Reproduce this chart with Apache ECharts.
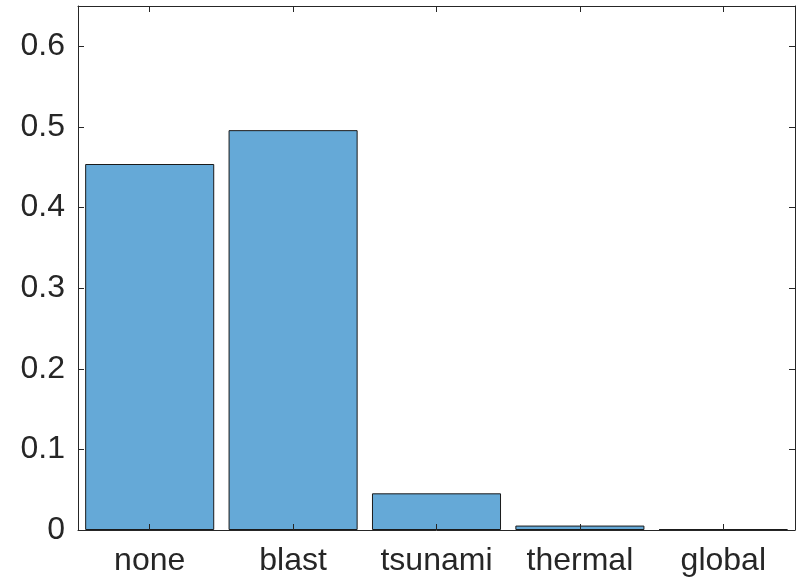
<!DOCTYPE html>
<html>
<head>
<meta charset="utf-8">
<script src="https://cdn.jsdelivr.net/npm/echarts@6/dist/echarts.min.js"></script>
<style>html,body{margin:0;padding:0;background:#fff}#c{width:796px;height:579px}</style>
</head>
<body>
<div id="c"></div>
<script>
const categories = ['none', 'blast', 'tsunami', 'thermal', 'global'];
const values = [0.454, 0.496, 0.0455, 0.0055, 0.001];
const yTicks = [0, 0.1, 0.2, 0.3, 0.4, 0.5, 0.6];

const axisColor = '#262626';
const font = 'Liberation Sans, Helvetica, Arial, sans-serif';
const chart = echarts.init(document.getElementById('c'), null, {renderer: 'canvas'});
chart.setOption({
  animation: false,
  backgroundColor: '#ffffff',
  grid: {left: 78, top: 6, right: 1, bottom: 49, containLabel: false},
  xAxis: [{
    type: 'category', data: categories, position: 'bottom', z: 5,
    axisLine: {show: true, lineStyle: {color: axisColor, width: 1}},
    axisTick: {show: true, inside: true, alignWithLabel: true, interval: 0, length: 6, lineStyle: {color: axisColor}},
    axisLabel: {color: axisColor, fontSize: 32, fontFamily: font, margin: 15, interval: 0, hideOverlap: false},
    splitLine: {show: false}
  }, {
    type: 'category', data: categories, position: 'top', z: 5,
    axisLine: {show: true, onZero: false, lineStyle: {color: axisColor, width: 1}},
    axisTick: {show: true, inside: true, alignWithLabel: true, interval: 0, length: 6, lineStyle: {color: axisColor}},
    axisLabel: {show: false}, splitLine: {show: false}
  }],
  yAxis: [{
    type: 'value', min: 0, max: 0.65, interval: 0.1, position: 'left', z: 5,
    axisLine: {show: true, lineStyle: {color: axisColor, width: 1}},
    axisTick: {show: true, inside: true, length: 6, lineStyle: {color: axisColor}},
    axisLabel: {color: axisColor, fontSize: 32, fontFamily: font, margin: 13, showMaxLabel: false,
      formatter: v => (yTicks.some(t => Math.abs(t - v) < 1e-9) ? String(Math.round(v * 10) / 10) : '')},
    splitLine: {show: false}
  }, {
    type: 'value', min: 0, max: 0.65, interval: 0.1, position: 'right', z: 5,
    axisLine: {show: true, onZero: false, lineStyle: {color: axisColor, width: 1}},
    axisTick: {show: true, inside: true, length: 6, lineStyle: {color: axisColor}},
    axisLabel: {show: false}, splitLine: {show: false}
  }],
  series: [{
    type: 'bar', data: values, xAxisIndex: 0, yAxisIndex: 0,
    barCategoryGap: '10%',
    itemStyle: {color: '#65a9d7', borderColor: '#1a1a1a', borderWidth: 1}
  }]
});
</script>
</body>
</html>
